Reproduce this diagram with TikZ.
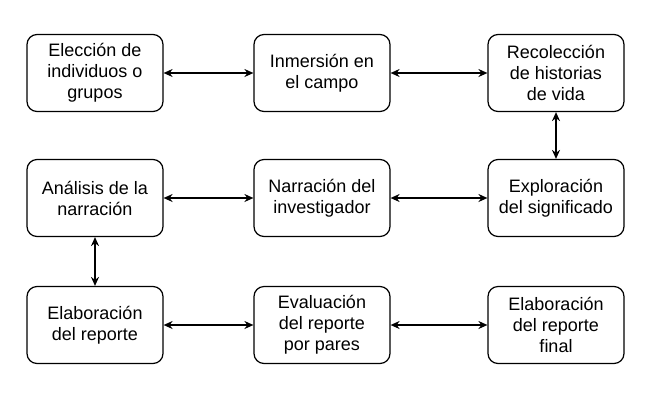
\documentclass[tikz,border=0pt]{standalone}
\usepackage{fontspec}
\setmainfont{Liberation Sans}
\usetikzlibrary{arrows.meta}
\begin{document}
\begin{tikzpicture}[x=1pt,y=-1pt,
  box/.style={draw, line width=1.2pt, rounded corners=10pt, minimum width=136pt, minimum height=77pt, align=center, inner sep=0pt, font=\fontsize{18pt}{21pt}\selectfont},
  link/.style={line width=1.8pt, {Stealth[length=9pt,width=8pt,inset=3pt]}-{Stealth[length=9pt,width=8pt,inset=3pt]}}]
\useasboundingbox (0,0) rectangle (650,400);
\node[box] (a) at (95,73) {Elección de\\individuos o\\grupos};
\node[box] (b) at (322,73) {Inmersión en\\el campo};
\node[box] (c) at (556,73) {Recolección\\de historias\\de vida};
\node[box] (d) at (95,198) {Análisis de la\\narración};
\node[box] (e) at (322,198) {Narración del\\investigador};
\node[box] (f) at (556,198) {Exploración\\del significado};
\node[box] (g) at (95,325) {Elaboración\\del reporte};
\node[box] (h) at (322,325) {Evaluación\\del reporte\\por pares};
\node[box] (i) at (556,325) {Elaboración\\del reporte\\final};
\draw[link] (a) -- (b);
\draw[link] (b) -- (c);
\draw[link] (c) -- (f);
\draw[link] (d) -- (e);
\draw[link] (e) -- (f);
\draw[link] (d) -- (g);
\draw[link] (g) -- (h);
\draw[link] (h) -- (i);
\end{tikzpicture}
\end{document}
